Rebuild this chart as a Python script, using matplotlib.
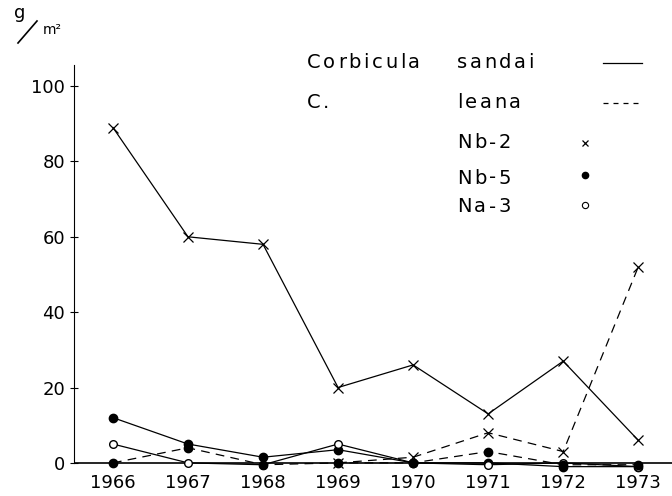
import matplotlib.pyplot as plt
from matplotlib.lines import Line2D

# Data (g/m2)
years = [1966, 1967, 1968, 1969, 1970, 1971, 1972, 1973]
years_leana_nb2 = [1969, 1970, 1971, 1972, 1973]

sandai_nb2 = [89, 60, 58, 20, 26, 13, 27, 6]
sandai_nb5 = [12, 5, 1.5, 3.5, 0, 0, -1, -1]
sandai_na3 = [5, 0, -0.5, 5, 0, -0.5, 0, -1]
leana_nb2 = [0, 1.5, 8, 3, 52]
leana_nb5 = [0, 4, -0.5, 0, 0, 3, -0.5, -0.5]

W, H = 672, 496
fig = plt.figure(figsize=(W / 100, H / 100), dpi=100)
ax = fig.add_axes([0.110, 0.044, 0.890, 0.825])

kw = dict(color="black", lw=0.9)
ax.plot(years, sandai_nb2, marker="x", ms=7, mew=0.9, **kw)
ax.plot(years, sandai_nb5, marker="o", ms=6, **kw)
ax.plot(years, sandai_na3, marker="o", ms=5.5, mfc="white", **kw)
ax.plot(years_leana_nb2, leana_nb2, ls=(0, (7, 5)), marker="x", ms=7, mew=0.9, **kw)
ax.plot(years, leana_nb5, ls=(0, (7, 5)), marker="o", ms=6, **kw)
ax.axhline(0, color="black", lw=1.2, zorder=0)

ax.set_xlim(1965.48, 1973.45)
ax.set_ylim(-3, 105.6)
ax.set_yticks([0, 20, 40, 60, 80, 100])
ax.set_xticks(years)
for s in ["top", "right", "bottom"]:
    ax.spines[s].set_visible(False)
ax.spines["left"].set_bounds(0, 105.6)
ax.tick_params(axis="x", length=0, pad=0, labelsize=13)
ax.tick_params(axis="y", direction="inout", length=6, labelsize=13)

renderer = fig.canvas.get_renderer()


def spaced(x_px, y_px, s, size=14, track=2.6):
    # write text letter by letter with extra spacing, positions in pixels from top-left
    x = x_px
    for ch in s:
        if ch == " ":
            x += size * 0.45 + track
            continue
        t = fig.text(x / W, 1 - y_px / H, ch, fontsize=size, va="center", ha="left")
        x += t.get_window_extent(renderer).width + track


# unit label g/m2
fig.text(20 / W, 1 - 13 / H, "g", fontsize=13, ha="center", va="center")
fig.text(43 / W, 1 - 30 / H, "m\u00b2", fontsize=10, ha="left", va="center")
fig.add_artist(Line2D([18 / W, 37 / W], [1 - 43 / H, 1 - 21 / H],
                      transform=fig.transFigure, color="black", lw=1.2))

# legend written out by hand like the original
spaced(307, 63, "Corbicula")
spaced(457, 63, "sandai")
spaced(307, 103, "C.")
spaced(457, 103, "leana")
spaced(457, 143, "Nb-2")
spaced(457, 178, "Nb-5")
spaced(457, 207, "Na-3")

fig.add_artist(Line2D([603 / W, 642 / W], [1 - 63 / H] * 2, transform=fig.transFigure,
                      color="black", lw=0.9))
fig.add_artist(Line2D([603 / W, 642 / W], [1 - 103 / H] * 2, transform=fig.transFigure,
                      color="black", lw=0.9, ls=(0, (4, 4))))
fig.add_artist(Line2D([585 / W], [1 - 143 / H], transform=fig.transFigure,
                      color="black", marker="x", ms=5, mew=0.9))
fig.add_artist(Line2D([585 / W], [1 - 175 / H], transform=fig.transFigure,
                      color="black", marker="o", ms=4.5))
fig.add_artist(Line2D([585 / W], [1 - 205 / H], transform=fig.transFigure,
                      color="black", marker="o", ms=4.5, mfc="white", mew=0.8))

plt.savefig("out.png", dpi=100)
